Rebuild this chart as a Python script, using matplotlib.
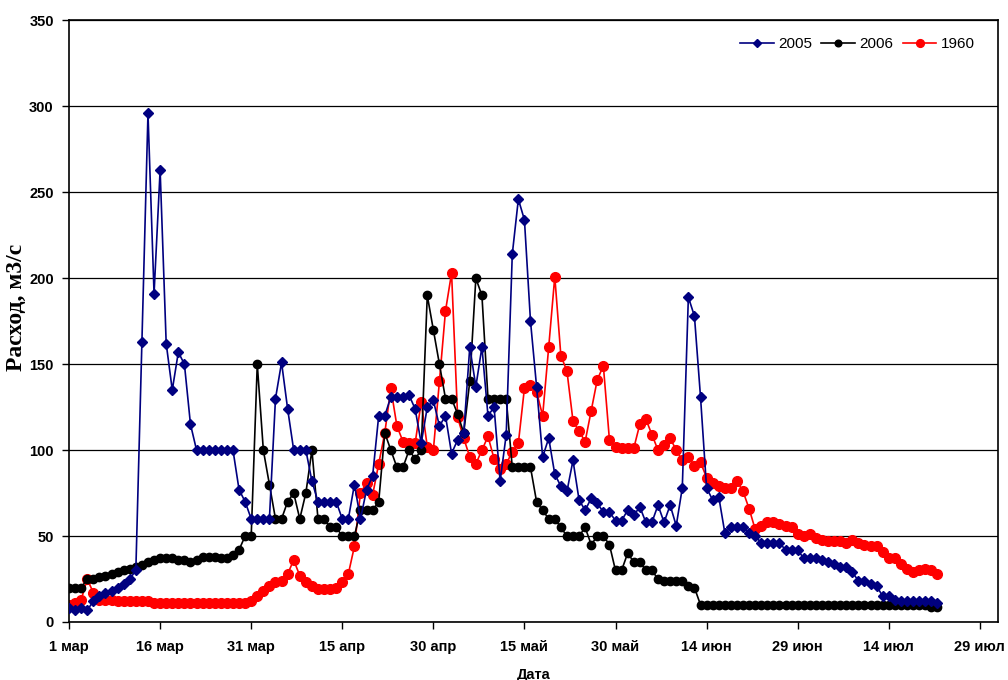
import numpy as np
import matplotlib
matplotlib.use("Agg")
import matplotlib.pyplot as plt

# daily discharge, m3/s, starting 1 March
q2005 = [8, 7, 8, 7, 12, 15, 17, 18, 20, 22, 25, 30, 163, 296, 191, 263, 162, 135, 157, 150,
         115, 100, 100, 100, 100, 100, 100, 100, 77, 70, 60, 60, 60, 60, 130, 151, 124, 100, 100, 100,
         82, 70, 70, 70, 70, 60, 60, 80, 60, 77, 85, 120, 120, 131, 131, 131, 132, 124, 104, 125,
         129, 114, 120, 98, 106, 110, 160, 137, 160, 120, 125, 82, 109, 214, 246, 234, 175, 137, 96, 107,
         86, 79, 76, 94, 71, 65, 72, 69, 64, 64, 59, 59, 65, 62, 67, 58, 58, 68, 58, 68,
         56, 78, 189, 178, 131, 78, 71, 73, 52, 55, 55, 55, 52, 50, 46, 46, 46, 46, 42, 42,
         42, 37, 37, 37, 36, 35, 34, 32, 32, 29, 24, 24, 22, 21, 15, 15, 13, 12, 12, 12,
         12, 12, 12, 11]

q2006 = [20, 20, 20, 25, 25, 26, 27, 28, 29, 30, 31, 32, 33, 35, 36, 37, 37, 37, 36, 36,
         35, 36, 38, 38, 38, 37, 37, 39, 42, 50, 50, 150, 100, 80, 60, 60, 70, 75, 60, 75,
         100, 60, 60, 55, 55, 50, 50, 50, 65, 65, 65, 70, 110, 100, 90, 90, 100, 95, 100, 190,
         170, 150, 130, 130, 121, 110, 140, 200, 190, 130, 130, 130, 130, 90, 90, 90, 90, 70, 65, 60,
         60, 55, 50, 50, 50, 55, 45, 50, 50, 45, 30, 30, 40, 35, 35, 30, 30, 25, 24, 24,
         24, 24, 21, 20, 10, 10, 10, 10, 10, 10, 10, 10, 10, 10, 10, 10, 10, 10, 10, 10,
         10, 10, 10, 10, 10, 10, 10, 10, 10, 10, 10, 10, 10, 10, 10, 10, 10, 10, 10, 10,
         10, 10, 9, 9]

q1960 = [10, 11, 13, 25, 17, 13, 13, 13, 12, 12, 12, 12, 12, 12, 11, 11, 11, 11, 11, 11,
         11, 11, 11, 11, 11, 11, 11, 11, 11, 11, 12, 15, 18, 21, 23, 24, 28, 36, 27, 23,
         21, 19, 19, 19, 20, 23, 28, 44, 75, 81, 74, 92, 110, 136, 114, 105, 104, 104, 128, 102,
         100, 140, 181, 203, 119, 107, 96, 92, 100, 108, 95, 89, 92, 99, 104, 136, 138, 134, 120, 160,
         201, 155, 146, 117, 111, 105, 123, 141, 149, 106, 102, 101, 101, 101, 115, 118, 109, 100, 103, 107,
         100, 94, 96, 91, 93, 84, 81, 79, 78, 78, 82, 76, 66, 54, 56, 58, 58, 57, 56, 55,
         51, 50, 51, 49, 48, 47, 47, 47, 46, 48, 46, 45, 44, 44, 41, 37, 37, 34, 31, 29,
         30, 31, 30, 28]

tick_days = [0, 15, 30, 45, 60, 75, 90, 105, 120, 135, 150]
tick_labels = ["1 мар", "16 мар", "31 мар", "15 апр", "30 апр", "15 май",
               "30 май", "14 июн", "29 июн", "14 июл", "29 июл"]

plt.rcParams['font.family'] = ['Liberation Sans', 'DejaVu Sans']

fig = plt.figure(figsize=(10.08, 6.8), dpi=100)
ax = fig.add_axes([0.0685, 0.0853, 0.9216, 0.8846])

ax.plot(np.arange(len(q2005)), q2005, color='#000080', lw=1.2, marker='D', ms=4.8, label='2005', zorder=3)
ax.plot(np.arange(len(q2006)), q2006, color='black', lw=1.2, marker='o', ms=6, label='2006', zorder=2)
ax.plot(np.arange(len(q1960)), q1960, color='#ff0000', lw=1.2, marker='o', ms=7, label='1960', zorder=1)

ax.set_xlim(0, 153)
ax.set_ylim(0, 350)
ax.set_yticks(np.arange(0, 351, 50))
ax.set_xticks(tick_days)
ax.set_xticklabels(tick_labels)
ax.yaxis.grid(True, color='black', lw=0.9)
ax.set_axisbelow(True)

for lab in ax.get_xticklabels() + ax.get_yticklabels():
    lab.set_fontweight('bold')
    lab.set_fontsize(10.5)
ax.tick_params(axis='both', direction='out', length=5, width=1, pad=6)
ax.tick_params(axis='x', pad=8)
for sp in ax.spines.values():
    sp.set_linewidth(1.2)

ax.set_xlabel("Дата", fontweight='bold', fontsize=10.5, labelpad=10)
ax.set_ylabel("Расход, м3/с", family=['Liberation Serif', 'DejaVu Serif'],
              fontweight='bold', fontsize=17)
ax.yaxis.set_label_coords(-0.045, 0.523)

ax.legend(loc='upper right', ncol=3, frameon=False, fontsize=11,
          handlelength=2.2, columnspacing=0.6, handletextpad=0.3,
          bbox_to_anchor=(0.99, 0.995), markerscale=0.8)

fig.savefig("out.png", dpi=100)
